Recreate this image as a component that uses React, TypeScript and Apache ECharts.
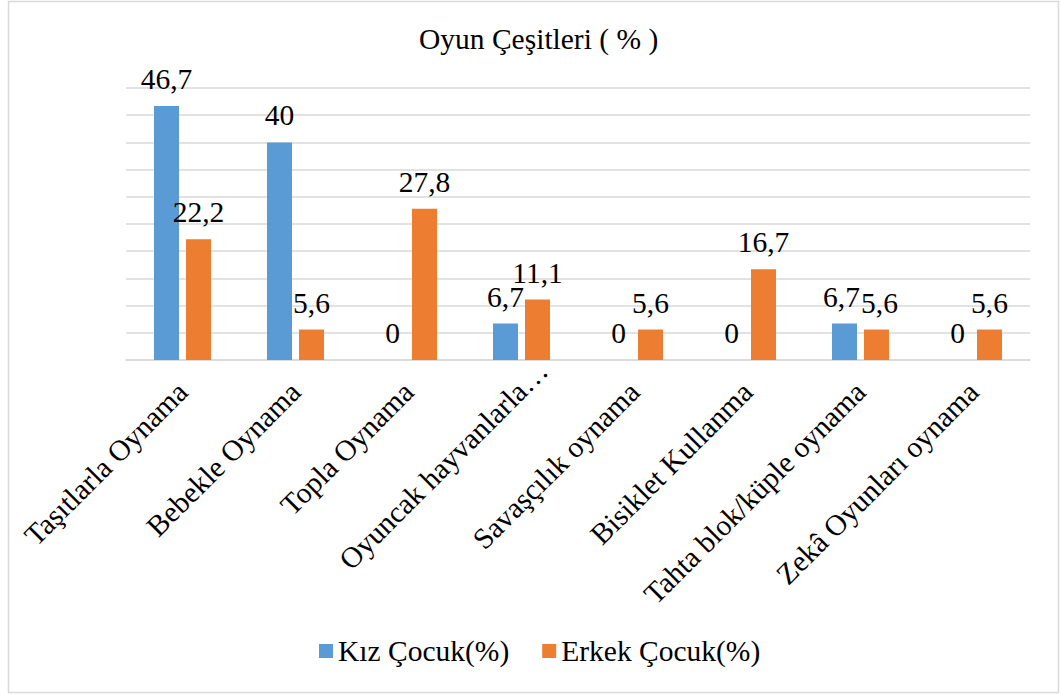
import React, { useEffect, useRef } from "react";
import * as echarts from "echarts";

const titleText = "Oyun Çeşitleri ( % )";
const categories = [
  "Taşıtlarla Oynama",
  "Bebekle Oynama",
  "Topla Oynama",
  "Oyuncak hayvanlarla…",
  "Savaşçılık oynama",
  "Bisiklet Kullanma",
  "Tahta blok/küple oynama",
  "Zekâ Oyunları oynama",
];
const seriesNames = ["Kız Çocuk(%)", "Erkek Çocuk(%)"];
const kizValues = [46.7, 40, 0, 6.7, 0, 0, 6.7, 0];
const erkekValues = [22.2, 5.6, 27.8, 11.1, 5.6, 16.7, 5.6, 5.6];
const colors = ["#5B9BD5", "#ED7D31"];

const FONT = "Liberation Serif";
const FS = 29.5;

export default function App() {
  const ref = useRef<HTMLDivElement>(null);
  useEffect(() => {
    if (!ref.current) return;
    const chart = echarts.init(ref.current, undefined, { renderer: "svg" });
    const labelCfg = {
      show: true,
      position: "top" as const,
      distance: 12,
      color: "#000",
      fontSize: FS,
      fontFamily: FONT,
      formatter: (p: any) => String(p.value).replace(".", ","),
    };
    // nudge the two touching labels in the 7th category apart slightly
    const withNudge = (vals: number[], dx: number) =>
      vals.map((v, i) => (i === 6 ? { value: v, label: { offset: [dx, 0] } } : v));
    chart.setOption({
      animation: false,
      backgroundColor: "#fff",
      title: {
        text: titleText,
        left: 414,
        top: 19,
        textStyle: { fontSize: FS, fontWeight: "normal", color: "#000", fontFamily: FONT },
      },
      legend: {
        bottom: 23,
        left: 314,
        itemWidth: 14,
        itemHeight: 14,
        itemGap: 33,
        icon: "rect",
        textStyle: { fontSize: FS, color: "#000", fontFamily: FONT },
        data: seriesNames,
      },
      grid: { left: 126, right: 31, top: 88, bottom: 334, containLabel: false },
      xAxis: {
        type: "category",
        data: categories,
        axisLine: { lineStyle: { color: "#d9d9d9", width: 1.5 } },
        axisTick: { show: false },
        axisLabel: {
          interval: 0,
          rotate: 45,
          margin: 27,
          fontSize: FS,
          color: "#000",
          fontFamily: FONT,
          formatter: (v: string, i: number) => (i === 3 ? "{s|" + v + "}" : v),
          rich: {
            s: { fontSize: FS, fontFamily: FONT, color: "#000", padding: [0, -30, 0, 0] },
          },
        },
      },
      yAxis: {
        type: "value",
        min: 0,
        max: 50,
        interval: 5,
        axisLabel: { show: false },
        axisLine: { show: false },
        axisTick: { show: false },
        splitLine: { lineStyle: { color: "#d9d9d9", width: 1.5 } },
      },
      graphic: [
        {
          type: "rect",
          shape: { x: 8.5, y: 1.5, width: 1050, height: 691 },
          style: { fill: "none", stroke: "#d9d9d9", lineWidth: 1.5 },
          silent: true,
        },
      ],
      series: [
        {
          name: seriesNames[0],
          type: "bar",
          data: withNudge(kizValues, -3),
          barWidth: 25,
          barGap: "28%",
          itemStyle: { color: colors[0] },
          label: labelCfg,
        },
        {
          name: seriesNames[1],
          type: "bar",
          data: withNudge(erkekValues, 3),
          barWidth: 25,
          barGap: "28%",
          itemStyle: { color: colors[1] },
          label: labelCfg,
        },
      ],
    });
    return () => chart.dispose();
  }, []);
  return (
    <div
      ref={ref}
      style={{ position: "absolute", left: 0, top: 0, width: 1061, height: 694 }}
    />
  );
}
